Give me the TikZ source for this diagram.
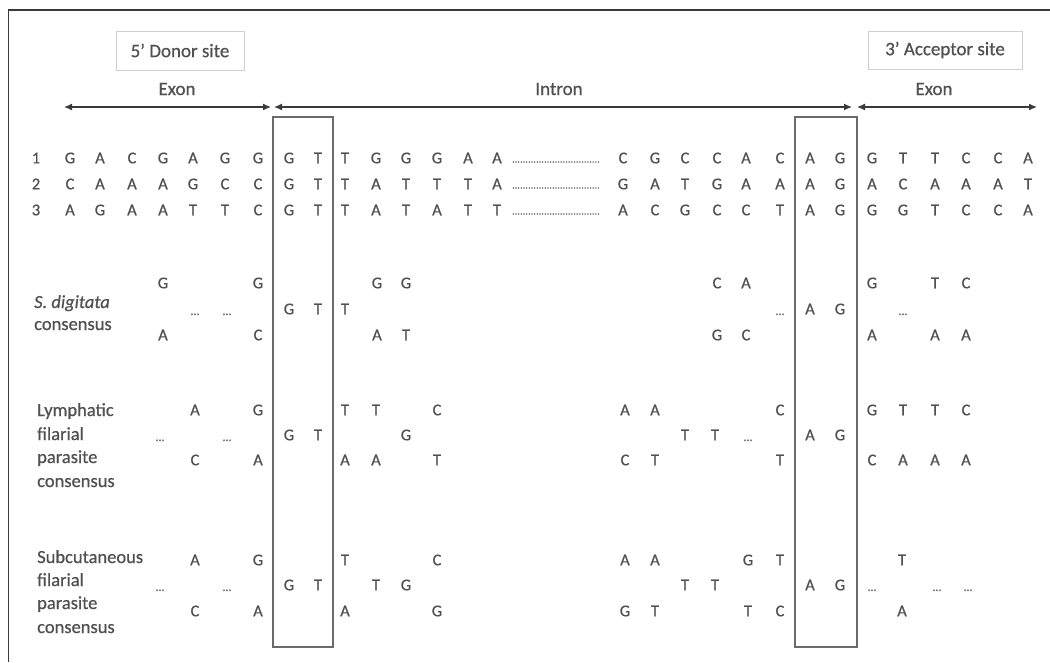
\documentclass[tikz,border=0pt]{standalone}
\usepackage{fontspec}
\setmainfont{Carlito}[FakeBold=0.6]
\usetikzlibrary{arrows.meta}
\definecolor{txt}{HTML}{505050}
\definecolor{ln}{HTML}{6A6A6A}
\definecolor{frm}{HTML}{3A3A3A}
\definecolor{lbox}{HTML}{CFCFCF}
\newcommand{\seqgap}{\makebox[88pt]{\fontsize{9}{9}\selectfont\xleaders\hbox to 2.6pt{\hss.\hss}\hfill}}
\begin{document}
\begin{tikzpicture}[x=1pt,y=-1pt,
  nt/.style={text=txt, font=\fontsize{16.5}{16.5}\selectfont, inner sep=0pt, anchor=center},
  dts/.style={text=txt, font=\fontsize{12}{12}\selectfont, inner sep=0pt, anchor=base},
  lbl/.style={text=txt, font=\fontsize{18.5}{18.5}\selectfont, inner sep=0pt, anchor=base west},
  hdr/.style={text=txt, font=\fontsize{19}{19}\selectfont, inner sep=0pt},
  sitebox/.style={draw=lbox, line width=0.9pt, text=txt, font=\fontsize{19}{19}\selectfont},
  splicebox/.style={draw=ln, line width=1.2pt, inner sep=0pt},
  arr/.style={draw=frm, line width=1.2pt, {Latex[length=8pt,width=7pt]}-{Latex[length=8pt,width=7pt]}},
  dotrun/.style={text=txt, inner sep=0pt, anchor=center}]
\useasboundingbox (0,0) rectangle (1050,662);
% frame (left and top edges visible)
\draw[frm, line width=1.3pt] (8.5,662) -- (8.5,10) -- (1050,10);
% header boxes
\node[sitebox, minimum width=128pt, minimum height=39pt] (donor) at (180,50.5) {5' Donor site};
\node[sitebox, minimum width=154pt, minimum height=38pt] (acceptor) at (945,50) {3' Acceptor site};
% region labels
\node[hdr] (exonL) at (177,89) {Exon};
\node[hdr] (intron) at (559,89) {Intron};
\node[hdr] (exonR) at (934,89) {Exon};
% arrows
\coordinate (a1) at (64,107);
\coordinate (a2) at (271,107);
\coordinate (a3) at (274,107);
\coordinate (a4) at (852,107);
\coordinate (a5) at (857,107);
\coordinate (a6) at (1037,107);
\draw[arr] (a1) -- (a2);
\draw[arr] (a3) -- (a4);
\draw[arr] (a5) -- (a6);
% splice site boxes
\node[splicebox, minimum width=60pt, minimum height=530pt] (box1) at (303,382) {};
\node[splicebox, minimum width=62pt, minimum height=530pt] (box2) at (826,382) {};
% sequence numbers
\node[nt] (n1) at (36,158) {1};
\node[nt] (n2) at (36,184) {2};
\node[nt] (n3) at (36,210) {3};
% sequences
\foreach \x/\l [count=\i] in {70/G,100/A,132/C,163/G,193/A,225/G,258/G,289/G,318/T,345/T,376/G,406/G,437/G,468/A,497/A,623/C,655/G,685/C,717/C,746/A,780/C,810/A,840/G,872/G,903/T,935/T,966/C,998/C,1028/A}
  \node[nt] (ra-\i) at (\x,158) {\l};
\foreach \x/\l [count=\i] in {70/C,100/A,132/A,163/A,193/G,225/C,258/C,289/G,318/T,345/T,376/A,406/T,437/T,468/T,497/A,623/G,655/A,685/T,717/G,746/A,780/A,810/A,840/G,872/A,903/C,935/A,966/A,998/A,1028/T}
  \node[nt] (rb-\i) at (\x,184) {\l};
\foreach \x/\l [count=\i] in {70/A,100/G,132/A,163/A,193/T,225/T,258/C,289/G,318/T,345/T,376/A,406/T,437/A,468/T,497/T,623/A,655/C,685/G,717/C,746/C,780/T,810/A,840/G,872/G,903/G,935/T,966/C,998/C,1028/A}
  \node[nt] (rc-\i) at (\x,210) {\l};
\foreach \y [count=\i] in {158,184,210}
  \node[dotrun] (gap-\i) at (556,\y+4) {\seqgap};
% S. digitata consensus
\node[lbl] (sd1) at (34,308) {\itshape S. digitata};
\node[lbl] (sd2) at (34,330) {consensus};
\foreach \x/\l [count=\i] in {163/G,258/G,377/G,406/G,717/C,746/A,872/G,935/T,966/C}
  \node[nt] (sdt-\i) at (\x,283) {\l};
\foreach \x/\l [count=\i] in {289/G,318/T,345/T,810/A,840/G}
  \node[nt] (sdm-\i) at (\x,309) {\l};
\foreach \x/\l [count=\i] in {163/A,258/C,377/A,406/T,717/G,746/C,872/A,935/A,966/A}
  \node[nt] (sdb-\i) at (\x,335) {\l};
\foreach \x [count=\i] in {195,227,780,903}
  \node[dts] (sdd-\i) at (\x,315) {…};
% Lymphatic filarial parasite consensus
\node[lbl] (lf1) at (37,416) {Lymphatic};
\node[lbl] (lf2) at (37,440) {filarial};
\node[lbl] (lf3) at (37,463) {parasite};
\node[lbl] (lf4) at (37,487) {consensus};
\foreach \x/\l [count=\i] in {195/A,258/G,345/T,376/T,437/C,625/A,655/A,780/C,872/G,903/T,935/T,966/C}
  \node[nt] (lft-\i) at (\x,410) {\l};
\foreach \x/\l [count=\i] in {289/G,318/T,406/G,685/T,715/T,810/A,840/G}
  \node[nt] (lfm-\i) at (\x,435) {\l};
\foreach \x/\l [count=\i] in {195/C,258/A,345/A,376/A,437/T,625/C,655/T,780/T,872/C,903/A,935/A,966/A}
  \node[nt] (lfb-\i) at (\x,460) {\l};
\foreach \x [count=\i] in {160,227,748}
  \node[dts] (lfd-\i) at (\x,441) {…};
% Subcutaneous filarial parasite consensus
\node[lbl] (sc1) at (37,563) {Subcutaneous};
\node[lbl] (sc2) at (37,586) {filarial};
\node[lbl] (sc3) at (37,609) {parasite};
\node[lbl] (sc4) at (37,633) {consensus};
\foreach \x/\l [count=\i] in {195/A,258/G,345/T,437/C,625/A,655/A,748/G,780/T,902/T}
  \node[nt] (sct-\i) at (\x,560) {\l};
\foreach \x/\l [count=\i] in {289/G,318/T,376/T,406/G,685/T,715/T,810/A,840/G}
  \node[nt] (scm-\i) at (\x,585) {\l};
\foreach \x/\l [count=\i] in {195/C,258/A,345/A,437/G,625/G,655/T,748/T,780/C,902/A}
  \node[nt] (scb-\i) at (\x,611) {\l};
\foreach \x [count=\i] in {160,227,872,937,968}
  \node[dts] (scd-\i) at (\x,591) {…};
\end{tikzpicture}
\end{document}
